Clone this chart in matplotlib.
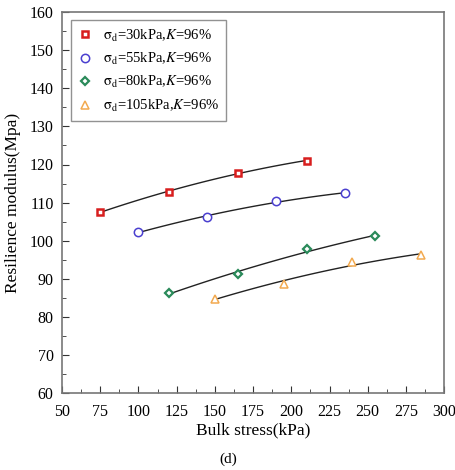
import matplotlib
matplotlib.use('Agg')
import matplotlib.pyplot as plt
import numpy as np
from matplotlib.ticker import MultipleLocator

plt.rcParams['font.family'] = ['Liberation Serif', 'DejaVu Serif']
plt.rcParams['mathtext.fontset'] = 'stix'

# data
x_30 = [75, 120, 165, 210]
y_30 = [107.5, 112.8, 117.8, 121.0]
x_55 = [100, 145, 190, 235]
y_55 = [102.2, 106.3, 110.3, 112.5]
x_80 = [120, 165, 210, 255]
y_80 = [86.2, 91.2, 97.7, 101.2]
x_105 = [150, 195, 240, 285]
y_105 = [84.8, 88.7, 94.3, 96.3]

labels = [r'$\mathrm{\sigma_d}$=30kPa,$K$=96%',
          r'$\mathrm{\sigma_d}$=55kPa,$K$=96%',
          r'$\mathrm{\sigma_d}$=80kPa,$K$=96%',
          r'$\mathrm{\sigma_d}$=105kPa,$K$=96%']

series = [(x_30, y_30), (x_55, y_55), (x_80, y_80), (x_105, y_105)]
styles = [
    dict(marker='s', color='#d81e1e', ms=5.0, mew=1.8),
    dict(marker='o', color='#4a3fcf', ms=6.0, mew=1.1),
    dict(marker='D', color='#2a8a5a', ms=4.2, mew=1.6),
    dict(marker='^', color='#f2aa50', ms=5.5, mew=1.1),
]

fig = plt.figure(figsize=(4.56, 4.70), dpi=100)
ax = fig.add_axes([0.136, 0.164, 0.838, 0.81])

for (xs, ys), st, lab in zip(series, styles, labels):
    coef = np.polyfit(xs, ys, 2)
    xx = np.linspace(min(xs), max(xs), 100)
    ax.plot(xx, np.polyval(coef, xx), color='#222222', lw=1.0, zorder=2)
    ax.plot(xs, ys, linestyle='none', marker=st['marker'], ms=st['ms'],
            markerfacecolor='white', markeredgecolor=st['color'],
            markeredgewidth=st['mew'], label=lab, zorder=3)

ax.set_xlim(50, 300)
ax.set_ylim(60, 160)
ax.xaxis.set_major_locator(MultipleLocator(25))
ax.xaxis.set_minor_locator(MultipleLocator(12.5))
ax.yaxis.set_major_locator(MultipleLocator(10))
ax.yaxis.set_minor_locator(MultipleLocator(5))
ax.tick_params(which='both', direction='in', top=False, right=False,
               labelsize=11.5, colors='#333333', labelcolor='black')
ax.tick_params(which='major', length=5)
ax.tick_params(which='minor', length=3)
ax.tick_params(axis='x', pad=8)
ax.tick_params(axis='y', pad=6)
for sp in ax.spines.values():
    sp.set_color('#777777')
    sp.set_linewidth(1.2)

ax.set_xlabel('Bulk stress(kPa)', fontsize=12.5, labelpad=2)
ax.set_ylabel('Resilience modulus(Mpa)', fontsize=12.5, labelpad=6)

leg = ax.legend(loc='upper left', fontsize=10.5, frameon=True, fancybox=False,
                edgecolor='#777777', handlelength=1.0, handletextpad=0.7,
                borderpad=0.5, labelspacing=0.5,
                bbox_to_anchor=(0.004, 0.998))
leg.get_frame().set_linewidth(1.0)

fig.text(0.5, 0.015, '(d)', ha='center', fontsize=11)

fig.savefig('out.png', dpi=100)
